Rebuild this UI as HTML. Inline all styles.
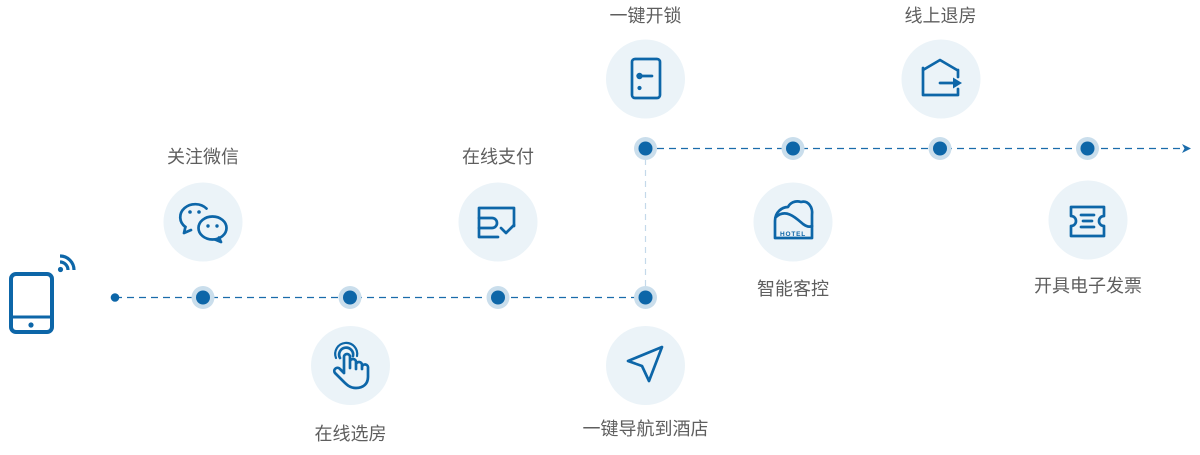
<!DOCTYPE html>
<html><head><meta charset="utf-8"><style>
html,body{margin:0;padding:0;background:#fff;}
body{width:1200px;height:450px;overflow:hidden;}
svg text{font-family:"Liberation Sans","Noto Sans CJK SC",sans-serif;font-size:18px;fill:#5e5e5e;}
</style></head><body>
<svg width="1200" height="450" viewBox="0 0 1200 450" xmlns="http://www.w3.org/2000/svg">
<!-- lines -->
<line x1="115" y1="297.5" x2="645" y2="297.5" stroke="#1a6cab" stroke-width="1.3" stroke-dasharray="7,5"/>
<line x1="645" y1="148.5" x2="1184" y2="148.5" stroke="#1a6cab" stroke-width="1.3" stroke-dasharray="7,5"/>
<line x1="645.5" y1="148" x2="645.5" y2="297" stroke="#c4d9ea" stroke-width="1.2" stroke-dasharray="6,5"/>
<path d="M1182 144 L1191 148.5 L1182 153 L1184.5 148.5 Z" fill="#1a6cab"/>
<circle cx="115" cy="297.5" r="4.3" fill="#0d66a8"/>
<!-- nodes -->
<g fill="#cadeec">
<circle cx="203" cy="297.5" r="11.5"/><circle cx="350" cy="297.5" r="11.5"/><circle cx="498" cy="297.5" r="11.5"/><circle cx="645.5" cy="297.5" r="11.5"/>
<circle cx="645.5" cy="148.5" r="11.5"/><circle cx="793" cy="148.5" r="11.5"/><circle cx="940" cy="148.5" r="11.5"/><circle cx="1087.5" cy="148.5" r="11.5"/>
</g>
<g fill="#0d66a8">
<circle cx="203" cy="297.5" r="7"/><circle cx="350" cy="297.5" r="7"/><circle cx="498" cy="297.5" r="7"/><circle cx="645.5" cy="297.5" r="7"/>
<circle cx="645.5" cy="148.5" r="7"/><circle cx="793" cy="148.5" r="7"/><circle cx="940" cy="148.5" r="7"/><circle cx="1087.5" cy="148.5" r="7"/>
</g>
<!-- big circles -->
<g fill="#ebf3f8">
<circle cx="203" cy="222" r="39.5"/><circle cx="498" cy="222" r="39.5"/>
<circle cx="350.5" cy="365.5" r="39.5"/><circle cx="645.5" cy="365.5" r="39.5"/>
<circle cx="645.5" cy="79" r="39.5"/><circle cx="941" cy="79" r="39.5"/>
<circle cx="793" cy="222" r="39.5"/><circle cx="1088" cy="220" r="39.5"/>
</g>
<!-- labels -->
<g text-anchor="middle">
<text x="203" y="163">关注微信</text>
<text x="498" y="163">在线支付</text>
<text x="350.5" y="440">在线选房</text>
<text x="645.5" y="435">一键导航到酒店</text>
<text x="645.5" y="22">一键开锁</text>
<text x="940.5" y="22">线上退房</text>
<text x="793" y="295">智能客控</text>
<text x="1088" y="292">开具电子发票</text>
</g>
<g stroke="#0d66a8" fill="none" stroke-width="2.7" stroke-linecap="round" stroke-linejoin="round">
<!-- phone -->
<rect x="11" y="274" width="41" height="58" rx="5" stroke-width="4"/>
<line x1="11" y1="317" x2="52" y2="317" stroke-width="3"/>
<path d="M60 262 A8 8 0 0 1 68 270" stroke-width="3.2" stroke-linecap="butt"/>
<path d="M60 256 A14 14 0 0 1 74 270" stroke-width="3.2" stroke-linecap="butt"/>
<!-- wechat -->
<path d="M185.4 227 A15 13 0 1 1 206.5 208.6"/>
<path d="M185.4 227 L184 233 L191 230"/>
<ellipse cx="212.5" cy="228" rx="14" ry="11.5"/>
<path d="M219 237.5 L221 242 L215 239.5"/>
<!-- payment -->
<path d="M514 226 L514 208 L479 208 L479 237 L498 237"/>
<path d="M479 218 L492 218 A5 5 0 0 1 492 228 L479 228"/>
<path d="M501 228 L506 233 L514 225"/>
<!-- door -->
<rect x="632" y="59" width="28" height="39" rx="3"/>
<line x1="640" y1="76" x2="652" y2="76"/>
<!-- house -->
<path d="M923 70 L940 60 L957 70 M923 68 L923 95 L958 95 L958 89 M958 70 L958 77"/>
<line x1="940" y1="83" x2="954" y2="83"/>
<!-- hand -->
<path d="M344 373 L344 357 A3 3 0 0 1 350 357 L350 368 M350 362 A3 3 0 0 1 356 362 L356 369 M356 365 A3 3 0 0 1 362 365 L362 369 M362 367 A3 3 0 0 1 368 368 L368 377 C368 384 363 388 356 388 C350 388 347 385 343 381 L335 373 A3 3 0 0 1 340 369 L344 373"/>
<path d="M340 358 A7 7 0 1 1 353 356"/>
<path d="M336 358 A11 11 0 1 1 357 356" stroke-width="2.2"/>
<!-- nav -->
<path d="M662 347 L628 361 L642 366 L649 381 Z"/>
<!-- hotel -->
<path d="M775 238 L775 221 C775 212 782 207 788 207 C790 203 795 200 801 202 C808 200 813 207 812 215 L812 238 Z"/>
<path d="M776 217 C786 208 796 218 803 224 C807 227 810 227 812 226"/>
<!-- ticket -->
<path d="M1071 207 L1104 207 L1104 216 A5 5 0 0 0 1104 226 L1104 236 L1071 236 L1071 226 A5 5 0 0 0 1071 216 Z"/>
<line x1="1081" y1="215" x2="1094" y2="215"/>
<line x1="1083" y1="221" x2="1092" y2="221"/>
<line x1="1081" y1="227" x2="1094" y2="227"/>
</g>
<g fill="#0d66a8">
<circle cx="31" cy="325" r="2.6"/>
<circle cx="60.5" cy="269.5" r="2.6"/>
<circle cx="190" cy="212" r="1.8"/><circle cx="199" cy="212" r="1.8"/>
<circle cx="208" cy="226" r="1.7"/><circle cx="217" cy="226" r="1.7"/>
<circle cx="639.5" cy="76" r="3.2"/><circle cx="639.5" cy="88" r="2.1"/>
<path d="M953 77.5 L962 83 L953 88.5 Z"/>
</g>
<text x="793" y="236" text-anchor="middle" style="font-size:6.5px;font-weight:bold;fill:#0d66a8;letter-spacing:0.8px">HOTEL</text>
</svg>
</body></html>
